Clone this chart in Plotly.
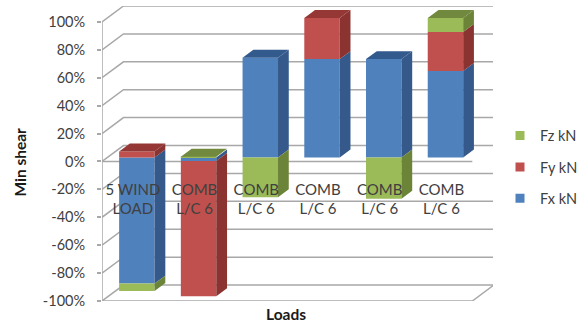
import plotly.graph_objects as go

# Share of each force per load case, in percent of the stacked total
categories = ["5 WIND<br>LOAD", "COMB<br>L/C 6", "COMB<br>L/C 6", "COMB<br>L/C 6", "COMB<br>L/C 6", "COMB<br>L/C 6"]
fx_kn = [-90.4, -2.5, 71.5, 70.5, 70.5, 62.0]
fy_kn = [4.3, -97.0, 0.0, 29.5, 0.0, 28.0]
fz_kn = [-5.3, 0.5, -28.5, 0.0, -29.5, 10.0]
y_ticks = [-100, -80, -60, -40, -20, 0, 20, 40, 60, 80, 100]

series = [
    # name, values, front, side, top
    ("Fx kN", fx_kn, "#4F81BD", "#34598A", "#325A8C"),
    ("Fy kN", fy_kn, "#C0504D", "#8A3331", "#953735"),
    ("Fz kN", fz_kn, "#9BBB59", "#6C8438", "#71893F"),
]

# Oblique projection: the wall recedes by this much in axis units
PX_PER_CAT = 61.8
PX_PER_PCT = 1.4
DX = 21.5 / PX_PER_CAT
DY = 16.0 / PX_PER_PCT
BAR_W = 35.5 / PX_PER_CAT
BAR_SHIFT_X = 4.0 / PX_PER_CAT
BAR_SHIFT_Y = 4.0 / PX_PER_PCT
LEFT, TOP, RIGHT, BOTTOM = 101.5, 5.5, 493, 301.5
x_min = -0.5
x_max = x_min + (RIGHT - LEFT) / PX_PER_CAT
y_min = -100
y_max = y_min + (BOTTOM - TOP) / PX_PER_PCT
positions = list(range(len(categories)))
x_end = positions[-1] + 0.5

TEXT = "#404040"
GRID = "#A8A8A8"
FONT = "Lato, Carlito, Calibri, sans-serif"

fig = go.Figure()

# Chart walls: side-wall diagonal plus back-wall line for every tick
wall_x, wall_y = [], []
for v in y_ticks:
    wall_x += [x_min, x_min + DX, x_end + DX, None]
    wall_y += [v, v + DY, v + DY, None]
wall_x += [x_min, x_min, None, x_min, x_end, x_end + DX, None, x_min, x_end]
wall_y += [-100, 100, None, -100, -100, -100 + DY, None, 0, 0]
fig.add_trace(go.Scatter(x=wall_x, y=wall_y, mode="lines", cliponaxis=False,
                         line=dict(color=GRID, width=1.5), hoverinfo="skip", showlegend=False))

# Front faces, on axes shifted partway into the chart depth
for name, values, front, side, top in series:
    fig.add_trace(go.Bar(x=positions, y=values, name=name, width=BAR_W,
                         marker=dict(color=front, line=dict(width=0)),
                         xaxis="x2", yaxis="y2", showlegend=False))

# Side and top faces follow the same stacking as the bars
depth_x = DX * 0.5
depth_y = DY * 0.5
pos_stack = [0.0] * len(positions)
neg_stack = [0.0] * len(positions)
faces = []
top_owner = {}
for name, values, front, side, top in series:
    sx, sy = [], []
    for i, v in enumerate(values):
        if v == 0:
            continue
        stack = pos_stack if v > 0 else neg_stack
        y0, y1 = stack[i], stack[i] + v
        stack[i] = y1
        xr = i + BAR_W / 2
        sx += [xr, xr + depth_x, xr + depth_x, xr, xr, None]
        sy += [y0, y0 + depth_y, y1 + depth_y, y1, y0, None]
        if v > 0:
            top_owner[i] = (top, y1)
    faces.append((sx, sy, side))
for i in positions:
    # a bar with nothing above zero closes at the baseline with its first series
    if i not in top_owner:
        top_owner[i] = (series[0][4], 0.0)
    colour, y1 = top_owner[i]
    xl, xr = i - BAR_W / 2, i + BAR_W / 2
    faces.append(([xl, xr, xr + depth_x, xl + depth_x, xl], [y1, y1, y1 + depth_y, y1 + depth_y, y1], colour))
for sx, sy, colour in faces:
    fig.add_trace(go.Scatter(x=sx, y=sy, mode="lines", fill="toself", fillcolor=colour,
                             line=dict(width=0, color=colour), hoverinfo="skip",
                             showlegend=False, xaxis="x2", yaxis="y2"))

# Legend entries, top to bottom
for name, values, front, side, top in reversed(series):
    fig.add_trace(go.Scatter(x=[None], y=[None], mode="markers", name=name, legendgroup=name,
                             marker=dict(symbol="square", size=9, color=front)))

fig.update_layout(
    width=585, height=326, autosize=False,
    margin=dict(l=LEFT, r=585 - RIGHT, t=TOP, b=326 - BOTTOM, pad=0),
    paper_bgcolor="white", plot_bgcolor="rgba(0,0,0,0)",
    font=dict(family=FONT, color=TEXT, size=14),
    barmode="relative",
    xaxis=dict(range=[x_min, x_max], tickmode="array", tickvals=positions, ticktext=categories,
               anchor="free", position=0.414, ticks="", showgrid=False, zeroline=False, showline=False,
               tickfont=dict(size=15, color=TEXT), fixedrange=True, tickangle=0),
    yaxis=dict(range=[y_min, y_max], tickmode="array", tickvals=y_ticks,
               ticktext=[f"{v}%" for v in y_ticks], ticks="outside", ticklen=4, tickcolor=GRID,
               tickwidth=1.5, ticklabelstandoff=9, showgrid=False, zeroline=False, showline=False,
               tickfont=dict(size=14.5, color=TEXT), fixedrange=True),
    xaxis2=dict(range=[x_min - BAR_SHIFT_X, x_max - BAR_SHIFT_X], overlaying="x", visible=False, fixedrange=True),
    yaxis2=dict(range=[y_min - BAR_SHIFT_Y, y_max - BAR_SHIFT_Y], overlaying="y", visible=False, fixedrange=True),
    legend=dict(xref="container", yref="container", x=0.8547, y=0.633, xanchor="left", yanchor="top",
                traceorder="grouped", tracegroupgap=9.5, font=dict(size=14.5, color=TEXT),
                bgcolor="rgba(0,0,0,0)"),
    annotations=[
        dict(text="<b>Min shear</b>", xref="paper", yref="paper", x=(19 - LEFT) / (RIGHT - LEFT),
             y=(BOTTOM - 162) / (BOTTOM - TOP), textangle=-90, showarrow=False,
             font=dict(size=15.5, color="#1a1a1a"), xanchor="center", yanchor="middle"),
        dict(text="<b>Loads</b>", xref="paper", yref="paper", x=(286 - LEFT) / (RIGHT - LEFT),
             y=(BOTTOM - 315) / (BOTTOM - TOP), showarrow=False,
             font=dict(size=15.5, color="#1a1a1a"), xanchor="center", yanchor="middle"),
    ],
)

fig.write_html("out.html")
